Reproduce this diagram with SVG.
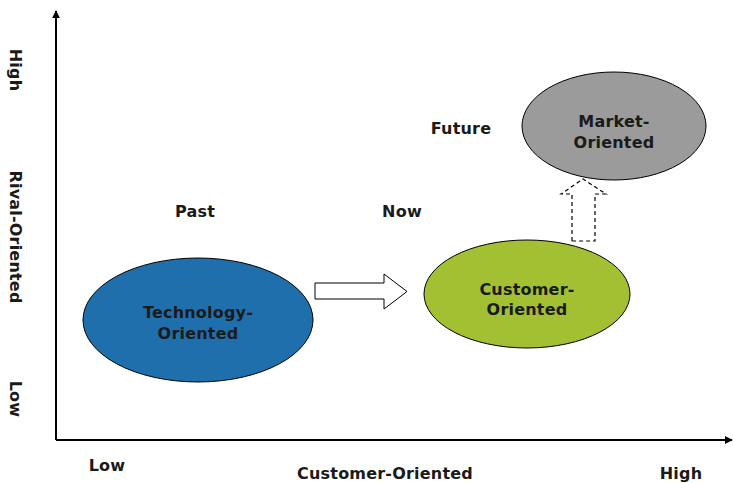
<svg xmlns="http://www.w3.org/2000/svg" width="733" height="483" viewBox="0 0 733 483">
<style>
text{font-family:"DejaVu Sans","Liberation Sans",sans-serif;font-weight:bold;font-size:16px;letter-spacing:0.2px;fill:#1a1a1a;text-anchor:middle}
.ax{stroke:#000;stroke-width:2;fill:none}
.node{stroke:#000;stroke-width:1}
</style>
<defs>
<marker id="ah" viewBox="0 0 10 10" refX="9" refY="5" markerWidth="8" markerHeight="8" orient="auto" markerUnits="userSpaceOnUse"><path d="M0,0 L10,5 L0,10 z" fill="#000"/></marker>
</defs>
<rect width="733" height="483" fill="#fff"/>
<g id="axes">
<line class="ax" x1="56" y1="440" x2="56" y2="11" marker-end="url(#ah)"/>
<line class="ax" x1="56" y1="440" x2="732" y2="440" marker-end="url(#ah)"/>
<text transform="translate(10,70) rotate(90)">High</text>
<text transform="translate(10,237) rotate(90)">Rival-Oriented</text>
<text transform="translate(10,399) rotate(90)">Low</text>
<text x="107" y="471">Low</text>
<text x="385" y="479">Customer-Oriented</text>
<text x="681" y="479">High</text>
</g>
<g id="labels">
<text x="195" y="217">Past</text>
<text x="402" y="217">Now</text>
<text x="461" y="134">Future</text>
</g>
<g id="connectors">
<path d="M315,283 L384,283 L384,274 L407,291.5 L384,309 L384,299 L315,299 Z" fill="#fff" stroke="#000" stroke-width="1"/>
<path d="M572,241 L572,194 L561,194 L583,179 L606,194 L595,194 L595,241 Z" fill="#fff" stroke="#000" stroke-width="1.2" stroke-dasharray="4,3"/>
</g>
<g id="technology">
<ellipse class="node" cx="198" cy="320" rx="115" ry="62" fill="#1f6fad"/>
<text x="198" y="318">Technology-</text>
<text x="198" y="339">Oriented</text>
</g>
<g id="customer">
<ellipse class="node" cx="527" cy="294" rx="103" ry="54" fill="#a2c032"/>
<text x="527" y="295">Customer-</text>
<text x="527" y="315">Oriented</text>
</g>
<g id="market">
<ellipse class="node" cx="614" cy="126" rx="92" ry="54" fill="#9b9b9b"/>
<text x="614" y="127">Market-</text>
<text x="614" y="148">Oriented</text>
</g>
</svg>
